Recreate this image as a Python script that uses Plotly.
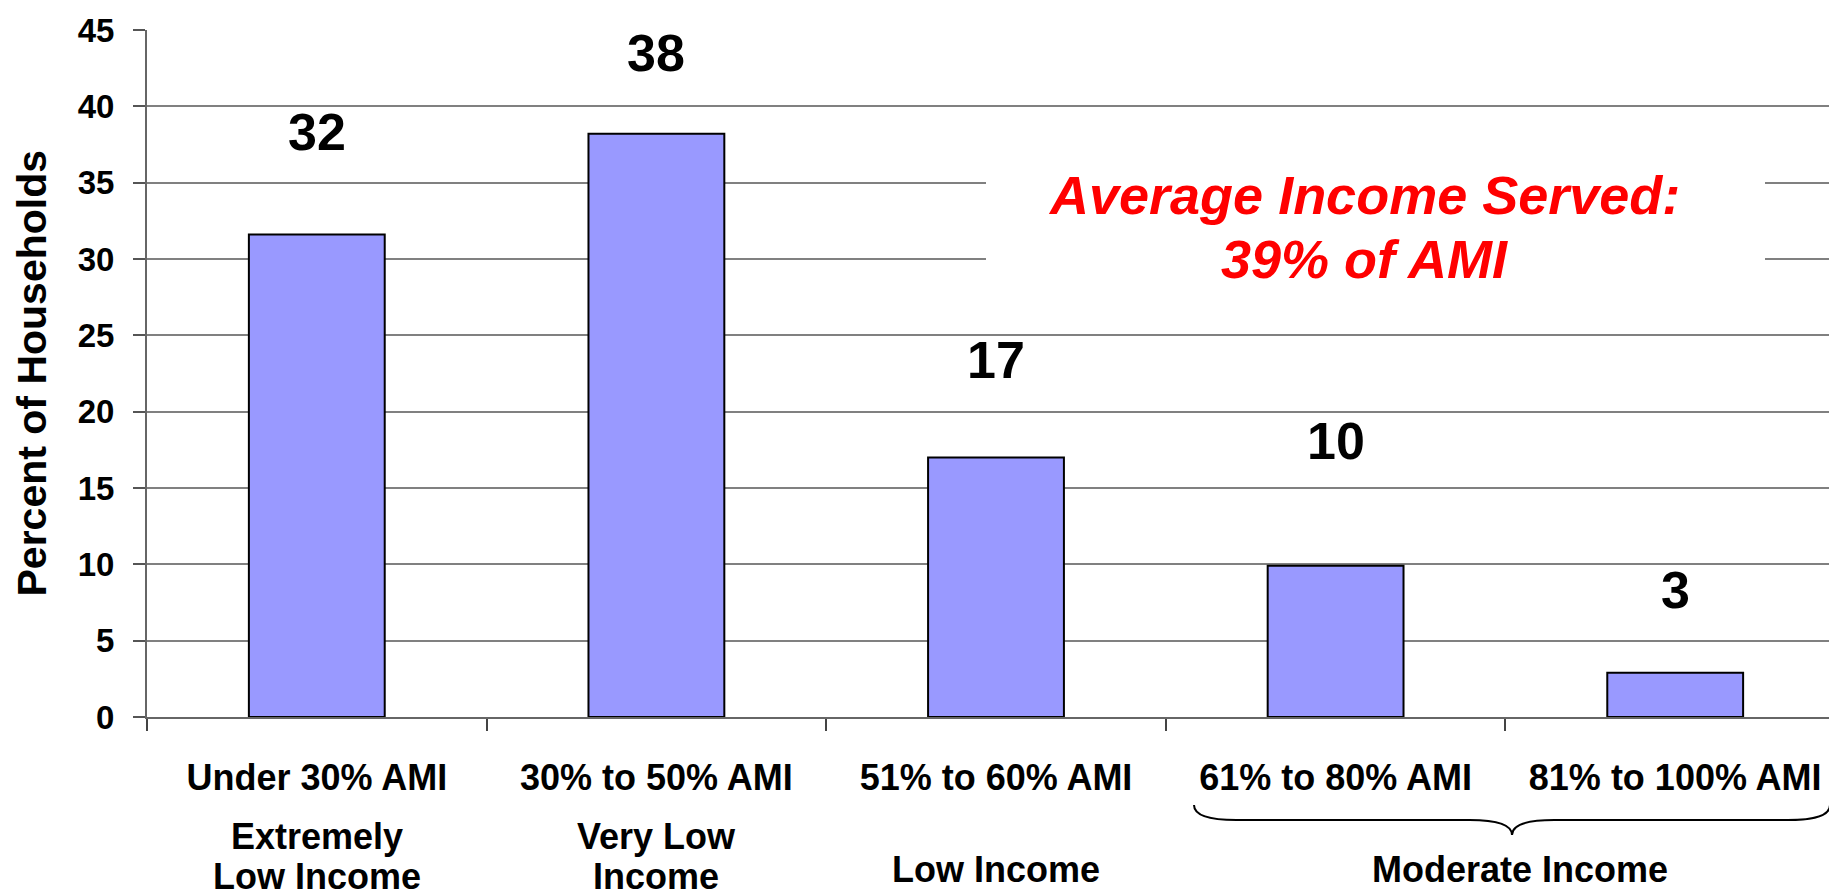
import plotly.graph_objects as go

# ---- data ----
categories = ["Under 30% AMI", "30% to 50% AMI", "51% to 60% AMI", "61% to 80% AMI", "81% to 100% AMI"]
values = [31.6, 38.2, 17.0, 9.9, 2.9]
value_labels = ["32", "38", "17", "10", "3"]
y_ticks = [0, 5, 10, 15, 20, 25, 30, 35, 40, 45]

# label heights (data units) where the value labels sit
label_y = [38.3, 43.5, 23.4, 18.1, 8.3]

# secondary category labels: (category index, text, pixel y)
income_labels = [
    (0, "Extremely", 828),
    (0, "Low Income", 868),
    (1, "Very Low", 828),
    (1, "Income", 868),
    (2, "Low Income", 861),
]
group_label = "Moderate Income"
note_lines = ["Average Income Served:", "39% of AMI"]
note_line_py = [187, 251]

W, H = 1837, 894
L, R, T, B = 139, 0, 22, 185
plot_h = H - T - B
plot_w = W - L - R

def py2paper(py):
    return (H - B - py) / plot_h

def px2paper(px):
    return (px - L) / plot_w

FONT = "Liberation Sans, Arial, sans-serif"

fig = go.Figure()
fig.add_trace(go.Bar(
    x=categories, y=values,
    marker=dict(color="#9999FF", line=dict(color="#000000", width=2)),
    width=0.40,
    hoverinfo="x+y",
))

annotations = []
for c, t, ly in zip(categories, value_labels, label_y):
    annotations.append(dict(x=c, y=ly, xref="x", yref="y", text=t, showarrow=False,
                            font=dict(family=FONT, size=52, color="black", weight="bold"),
                            xanchor="center", yanchor="middle"))
for idx, t, py in income_labels:
    annotations.append(dict(x=categories[idx], y=py2paper(py), xref="x", yref="paper", text=t,
                            showarrow=False,
                            font=dict(family=FONT, size=36, color="black", weight="bold"),
                            xanchor="center", yanchor="middle"))
annotations.append(dict(x=px2paper(1512), y=py2paper(861), xref="paper", yref="paper",
                        text=group_label, showarrow=False,
                        font=dict(family=FONT, size=36, color="black", weight="bold"),
                        xanchor="center", yanchor="middle"))
for t, py in zip(note_lines, note_line_py):
    annotations.append(dict(x=px2paper(1356), y=py2paper(py), xref="paper", yref="paper",
                            text=t, showarrow=False,
                            font=dict(family=FONT, size=54, color="#FF0000", weight="bold", style="italic"),
                            xanchor="center", yanchor="middle"))
annotations.append(dict(x=px2paper(23), y=0.5, xref="paper", yref="paper",
                        text="Percent of Households", textangle=-90, showarrow=False,
                        font=dict(family=FONT, size=41, color="black", weight="bold"),
                        xanchor="center", yanchor="middle"))

# brace under the two moderate income categories
x0, x1, xc = px2paper(1186), px2paper(1822), px2paper(1504)
yt, ym, yb = py2paper(797), py2paper(812), py2paper(827)
d = 0.025
brace = (f"M {x0},{yt} Q {x0},{ym} {x0+d},{ym} L {xc-d},{ym} Q {xc},{ym} {xc},{yb} "
         f"Q {xc},{ym} {xc+d},{ym} L {x1-d},{ym} Q {x1},{ym} {x1},{yt}")

shapes = [
    dict(type="rect", xref="paper", yref="paper",
         x0=px2paper(978), x1=px2paper(1757), y0=py2paper(295), y1=py2paper(135),
         fillcolor="white", line=dict(width=0), layer="above"),
    dict(type="path", xref="paper", yref="paper", path=brace,
         line=dict(color="black", width=2)),
]

fig.update_layout(
    width=W, height=H,
    margin=dict(l=L, r=R, t=T, b=B, pad=0),
    paper_bgcolor="white", plot_bgcolor="white",
    showlegend=False,
    bargap=0.6,
    annotations=annotations,
    shapes=shapes,
    xaxis=dict(
        type="category",
        tickson="boundaries",
        ticks="outside", ticklen=12, tickcolor="#444", tickwidth=1.5,
        tickfont=dict(family=FONT, size=36, color="black", weight="bold"),
        ticklabelstandoff=28,
        showline=True, linecolor="#666", linewidth=2,
        showgrid=False,
        range=[-0.5, 4.5],
        fixedrange=True,
    ),
    yaxis=dict(
        range=[0, 45],
        tickvals=y_ticks,
        ticks="outside", ticklen=12, tickcolor="#555", tickwidth=1.5,
        tickfont=dict(family=FONT, size=33, color="black", weight="bold"),
        ticklabelstandoff=12,
        showline=True, linecolor="#666", linewidth=2,
        showgrid=True, gridcolor="#808080", gridwidth=1.5,
        zeroline=False,
        fixedrange=True,
    ),
)

fig.write_html("out.html", config={"displayModeBar": False})
